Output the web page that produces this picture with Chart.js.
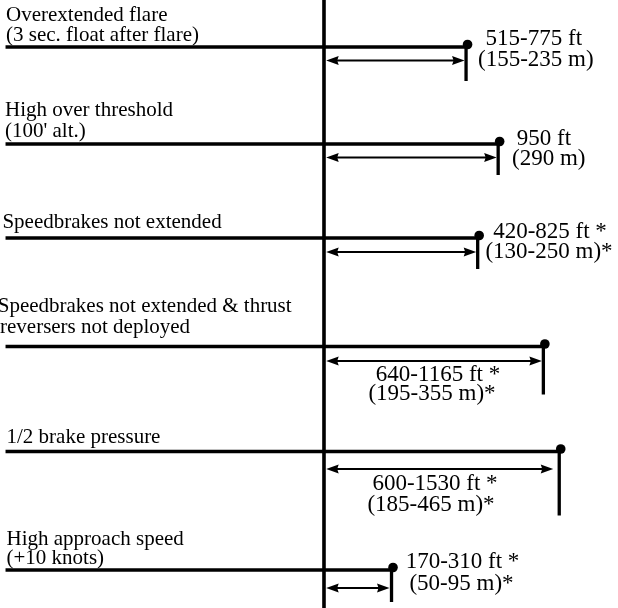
<!DOCTYPE html>
<html><head><meta charset="utf-8">
<script src="https://cdn.jsdelivr.net/npm/chart.js@4.4.1/dist/chart.umd.min.js"></script>
<style>html,body{margin:0;padding:0;background:#fff;overflow:hidden}</style>
</head><body>
<canvas id="c" width="618" height="608"></canvas>
<script>
// ---- data ----
const scenarios = [
  ["Overextended flare", "(3 sec. float after flare)"],
  ["High over threshold", "(100' alt.)"],
  ["Speedbrakes not extended"],
  ["Speedbrakes not extended & thrust", "reversers not deployed"],
  ["1/2 brake pressure"],
  ["High approach speed", "(+10 knots)"]
];
const ftMin = [515, 950, 420, 640, 600, 170];
const ftMax = [775, 950, 825, 1165, 1530, 310];
const mMin = [155, 290, 130, 195, 185, 50];
const mMax = [235, 290, 250, 355, 465, 95];
const estimated = [false, false, true, true, true, true];
// schematic extent as drawn in the figure (ft)
const drawnExtentFt = [770, 944, 833, 1189, 1275, 366];

const rangeText = (a, b) => a === b ? `${b}` : `${a}-${b}`;
const ftText = ftMin.map((a, i) => rangeText(a, ftMax[i]) + ' ft' + (estimated[i] ? ' *' : ''));
const mText = mMin.map((a, i) => '(' + rangeText(a, mMax[i]) + ' m)' + (estimated[i] ? '*' : ''));

// ---- layout (not data) ----
const layout = {
  xMin: -1756, xMax: 1593.5, lineStartFt: -1726,
  rowY: [47, 144, 238, 346.5, 451.5, 570],
  dropLen: [34, 31, 31, 48, 64, 32],
  arrowDy: [13.5, 13.5, 14, 14.5, 17.5, 18],
  arrowStartGap: 2.2,
  arrowEndGap: [1.5, 1.5, 1.5, 1.5, 6, 2],
  headLen: 12.5, headHalf: 4.6, headNotch: 1.5,
  dotR: 4.8, dotDx: 1.5, dotDy: -2.5,
  labelX: [[6, 6], [5, 5], [2.4], [-2.3, 0], [6.5], [6.5, 6.5]],
  labelDy: [[-26.3, -6.3], [-28, -7], [-10], [-35, -13.5], [-9], [-25, -6]],
  valueX: [[533.8, 535.8], [544, 548.7], [550, 549], [438, 432], [435, 431], [462.5, 461.5]],
  valueDy: [[-2, 19], [1, 21], [0, 20], [34, 53.5], [38.5, 59.5], [-2.5, 20]],
  labelFont: '21px "Liberation Serif", "Times New Roman", serif',
  valueFont: '23px "Liberation Serif", "Times New Roman", serif'
};

const datasets = [];
datasets.push({ data: [{x: 0, y: 0}, {x: 0, y: 608}], borderWidth: 3.6 });
drawnExtentFt.forEach((e, i) => {
  const ry = layout.rowY[i];
  datasets.push({ data: [{x: layout.lineStartFt, y: ry}, {x: e, y: ry}], borderWidth: 3.5 });
  datasets.push({ data: [{x: e, y: ry - 1.5}, {x: e, y: ry + layout.dropLen[i]}], borderWidth: 3.3 });
});
datasets.forEach(d => Object.assign(d, {
  showLine: true, borderColor: '#000', pointRadius: 0, borderCapStyle: 'butt', fill: false, tension: 0
}));

const overlay = {
  id: 'overlay',
  afterDatasetsDraw(chart) {
    const {ctx, scales: {x, y}} = chart;
    const x0 = x.getPixelForValue(0);
    ctx.save();
    ctx.fillStyle = '#000';
    ctx.strokeStyle = '#000';
    const head = (tx, ty, dir) => {
      ctx.beginPath();
      ctx.moveTo(tx, ty);
      ctx.lineTo(tx + dir * layout.headLen, ty - layout.headHalf);
      ctx.lineTo(tx + dir * (layout.headLen - layout.headNotch), ty);
      ctx.lineTo(tx + dir * layout.headLen, ty + layout.headHalf);
      ctx.closePath();
      ctx.fill();
    };
    drawnExtentFt.forEach((e, i) => {
      const py = y.getPixelForValue(layout.rowY[i]);
      const pe = x.getPixelForValue(e);
      // dot at the end
      ctx.beginPath();
      ctx.arc(pe + layout.dotDx, py + layout.dotDy, layout.dotR, 0, Math.PI * 2);
      ctx.fill();
      // double arrow
      const ay = py + layout.arrowDy[i];
      const l = x0 + layout.arrowStartGap, r = pe - layout.arrowEndGap[i];
      ctx.lineWidth = 2.2;
      ctx.beginPath(); ctx.moveTo(l + 6, ay); ctx.lineTo(r - 6, ay); ctx.stroke();
      head(l, ay, 1); head(r, ay, -1);
      // scenario labels
      ctx.font = layout.labelFont;
      ctx.textAlign = 'left';
      ctx.textBaseline = 'alphabetic';
      scenarios[i].forEach((t, k) => ctx.fillText(t, layout.labelX[i][k], py + layout.labelDy[i][k]));
      // value labels
      ctx.font = layout.valueFont;
      ctx.textAlign = 'center';
      [ftText[i], mText[i]].forEach((t, k) => ctx.fillText(t, layout.valueX[i][k], py + layout.valueDy[i][k]));
    });
    ctx.restore();
  }
};

new Chart(document.getElementById('c'), {
  type: 'scatter',
  data: { datasets },
  options: {
    responsive: false, animation: false,
    layout: { padding: 0 },
    plugins: { legend: { display: false }, tooltip: { enabled: false } },
    scales: {
      x: { type: 'linear', min: layout.xMin, max: layout.xMax, display: false },
      y: { type: 'linear', min: 0, max: 608, reverse: true, display: false }
    }
  },
  plugins: [overlay]
});
</script>
</body></html>
